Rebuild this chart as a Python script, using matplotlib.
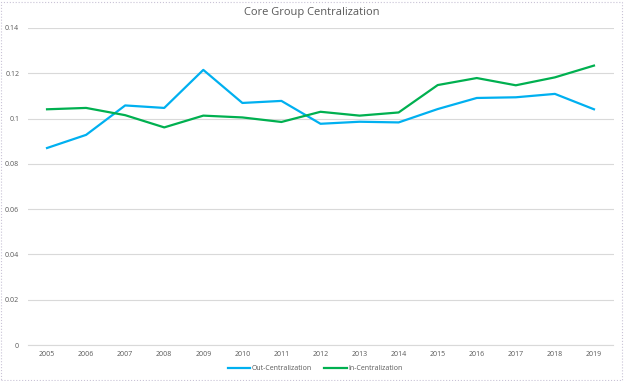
import matplotlib
matplotlib.use("Agg")
import matplotlib.pyplot as plt
from matplotlib.patches import Rectangle

years = [str(y) for y in range(2005, 2020)]
out_central = [0.0870, 0.0928, 0.1058, 0.1047, 0.1215, 0.1069, 0.1078, 0.0977,
               0.0986, 0.0983, 0.1042, 0.1091, 0.1094, 0.1109, 0.1041]
in_central = [0.1041, 0.1047, 0.1015, 0.0961, 0.1013, 0.1005, 0.0985, 0.1030,
              0.1013, 0.1027, 0.1148, 0.1179, 0.1147, 0.1182, 0.1234]
y_ticks = [0, 0.02, 0.04, 0.06, 0.08, 0.1, 0.12, 0.14]
y_labels = ["0", "0.02", "0.04", "0.06", "0.08", "0.1", "0.12", "0.14"]

plt.rcParams['font.family'] = ['Open Sans', 'DejaVu Sans']
text_color = '#595959'

fig = plt.figure(figsize=(6.24, 3.81), dpi=100)
# plot area in pixel terms: x 27.5..613.5, y 28..345 (from top)
W, H = 624, 381
ax = fig.add_axes([27.5 / W, 1 - 345 / H, (613.5 - 27.5) / W, (345 - 28) / H])

x = range(len(years))
ax.plot(x, out_central, color='#00B0F0', lw=1.6, label='Out-Centralization')
ax.plot(x, in_central, color='#00B050', lw=1.6, label='In-Centralization')

ax.set_xlim(-0.5, len(years) - 0.5)
ax.set_ylim(0, 0.14)
ax.set_xticks(list(x))
ax.set_xticklabels(years)
ax.set_yticks(y_ticks)
ax.set_yticklabels(y_labels)
ax.tick_params(axis='both', length=0, labelsize=5, colors=text_color)
ax.tick_params(axis='x', pad=4)
ax.tick_params(axis='y', pad=6)

ax.grid(axis='y', color='#D9D9D9', lw=0.8)
ax.set_axisbelow(True)
for s in ['top', 'right', 'left']:
    ax.spines[s].set_visible(False)
ax.spines['bottom'].set_color('#D9D9D9')
ax.spines['bottom'].set_linewidth(0.8)

fig.text(0.5, 1 - 13 / H, 'Core Group Centralization', ha='center', va='center',
         fontsize=8, color=text_color)

leg = fig.legend(loc='center', bbox_to_anchor=(0.505, 1 - 369 / H), ncol=2,
                 frameon=False, fontsize=5, handlelength=3.2, handletextpad=0.2,
                 columnspacing=1.8)
for t in leg.get_texts():
    t.set_color(text_color)

fig.patches.append(Rectangle((0.002, 0.003), 0.995, 0.993, transform=fig.transFigure,
                             fill=False, ec='#C9C3D6', lw=0.8, ls=':'))

fig.savefig('out.png', dpi=100)
